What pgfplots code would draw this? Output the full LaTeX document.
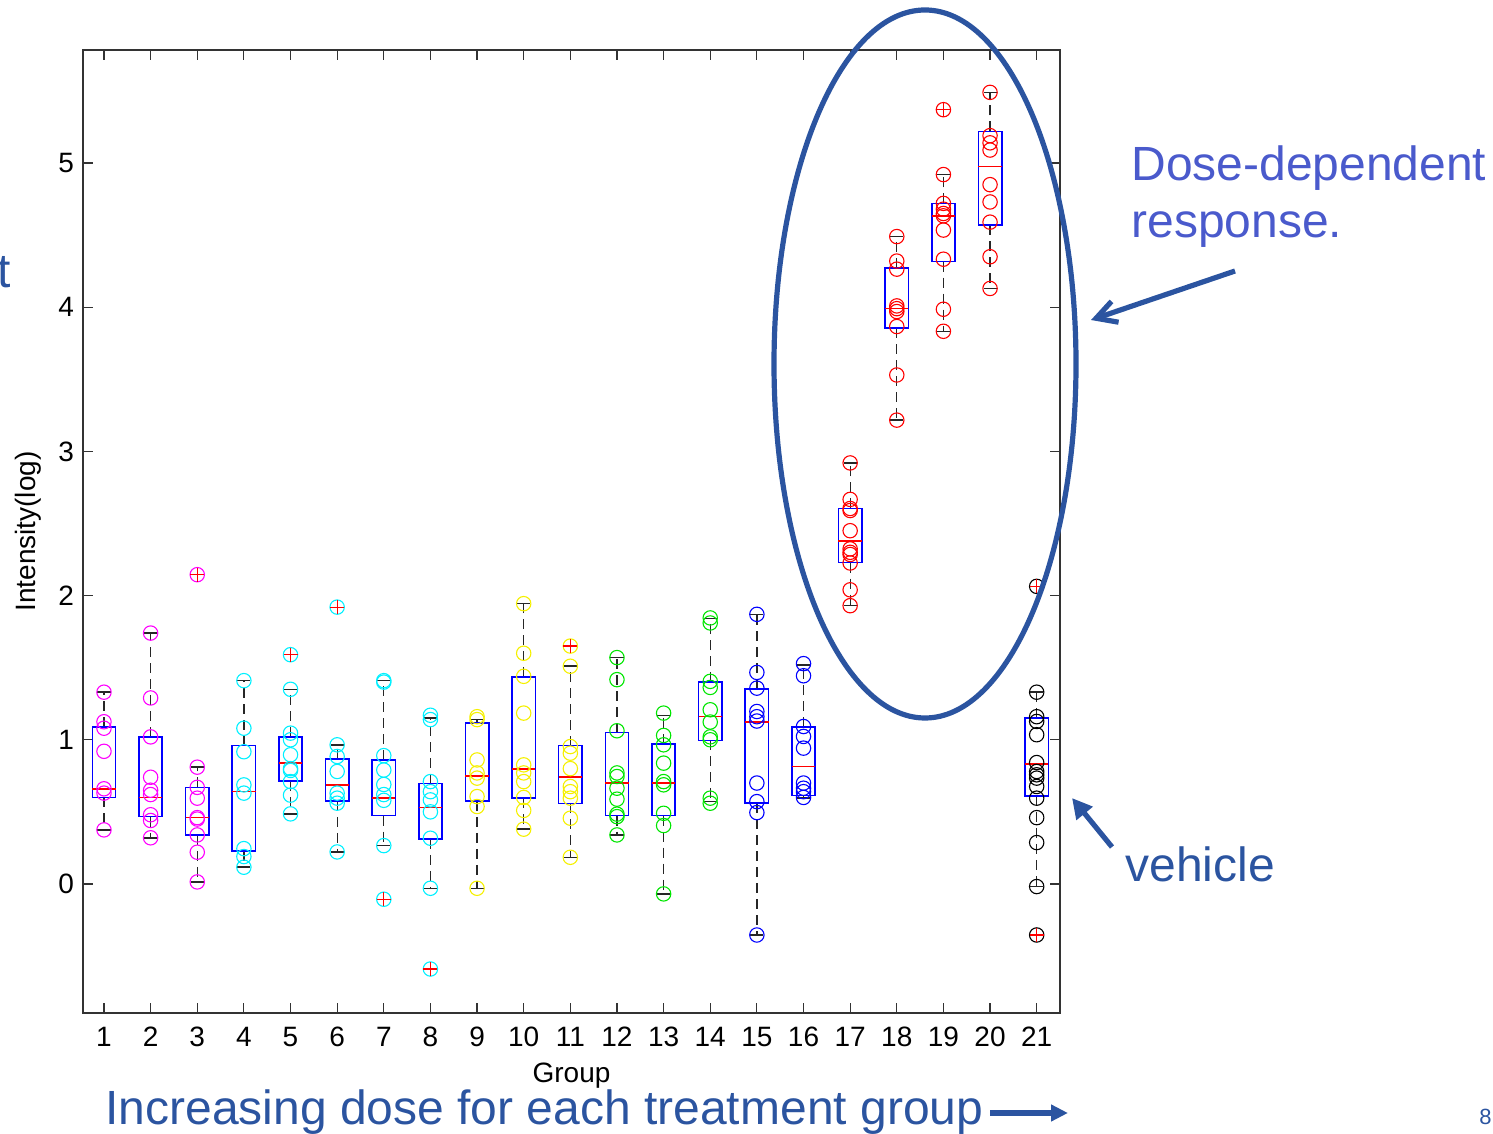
\documentclass[border=0pt]{standalone}
\usepackage{pgfplots}
\pgfplotsset{compat=1.18}
\usepgfplotslibrary{statistics}
\usetikzlibrary{arrows.meta}
\usepackage{fontspec}
\setmainfont{Liberation Sans}
\definecolor{annblue}{RGB}{43,84,160}
\definecolor{doseblue}{RGB}{74,90,204}
\definecolor{mag}{RGB}{255,0,255}
\definecolor{cya}{RGB}{0,240,255}
\definecolor{yel}{RGB}{245,240,0}
\definecolor{gre}{RGB}{0,230,0}
\definecolor{blu}{RGB}{0,0,255}
\definecolor{re}{RGB}{255,0,0}
\begin{document}
\begin{tikzpicture}
\path[use as bounding box] (-41.5pt,-60.5pt) rectangle (705pt,506.5pt);
\begin{axis}[
  at={(0,0)}, anchor=south west,
  scale only axis, width=488.5pt, height=481.5pt,
  xmin=0.55, xmax=21.5, ymin=-0.895, ymax=5.784,
  xtick={1,...,21}, ytick={0,...,5},
  tick align=inside, major tick length=5pt,
  axis line style={line width=0.75pt, black!80},
  tick style={line width=0.6pt, black!80},
  ticklabel style={font=\fontsize{14}{16}\selectfont},
  /pgf/number format/assume math mode=true,
  xticklabel shift=3.5pt, yticklabel shift=1pt,
  xlabel={Group}, ylabel={Intensity(log)},
  label style={font=\fontsize{14}{16}\selectfont},
  xlabel style={at={(axis description cs:0.5,-0.0655)}, anchor=center},
  ylabel style={at={(axis description cs:-0.0563,0.5)}, anchor=center},
  boxplot/draw direction=y,
  boxplot/box extend=0.5,
  boxplot/whisker extend=0.28,
  boxplot/every box/.style={draw=blu, line width=0.8pt},
  boxplot/every median/.style={draw=re, line width=0.8pt},
  boxplot/draw/lower whisker/.code={%
    \draw[black!85, line width=0.65pt, dash pattern=on 5pt off 3pt]
      (boxplot cs:\pgfplotsboxplotvalue{lower quartile}) -- (boxplot cs:\pgfplotsboxplotvalue{lower whisker});
    \draw[black!85, line width=0.75pt]
      (boxplot whisker cs:\pgfplotsboxplotvalue{lower whisker},0) -- (boxplot whisker cs:\pgfplotsboxplotvalue{lower whisker},1);
  },
  boxplot/draw/upper whisker/.code={%
    \draw[black!85, line width=0.65pt, dash pattern=on 5pt off 3pt]
      (boxplot cs:\pgfplotsboxplotvalue{upper quartile}) -- (boxplot cs:\pgfplotsboxplotvalue{upper whisker});
    \draw[black!85, line width=0.75pt]
      (boxplot whisker cs:\pgfplotsboxplotvalue{upper whisker},0) -- (boxplot whisker cs:\pgfplotsboxplotvalue{upper whisker},1);
  },
  pts/.style={only marks, mark=o, mark size=3.6pt, mark options={line width=0.55pt}, draw=#1},
  outl/.style={only marks, mark=+, mark size=3.5pt, re, mark options={line width=0.6pt}},
]
% boxes
\addplot[boxplot prepared={draw position=1, lower whisker=0.375, lower quartile=0.60, median=0.66, upper quartile=1.09, upper whisker=1.33}] coordinates {};
\addplot[boxplot prepared={draw position=2, lower whisker=0.32, lower quartile=0.467, median=0.60, upper quartile=1.02, upper whisker=1.74}] coordinates {};
\addplot[boxplot prepared={draw position=3, lower whisker=0.014, lower quartile=0.34, median=0.46, upper quartile=0.67, upper whisker=0.81}] coordinates {};
\addplot[boxplot prepared={draw position=4, lower whisker=0.116, lower quartile=0.23, median=0.64, upper quartile=0.96, upper whisker=1.41}] coordinates {};
\addplot[boxplot prepared={draw position=5, lower whisker=0.486, lower quartile=0.715, median=0.84, upper quartile=1.02, upper whisker=1.35}] coordinates {};
\addplot[boxplot prepared={draw position=6, lower whisker=0.222, lower quartile=0.576, median=0.6875, upper quartile=0.868, upper whisker=0.965}] coordinates {};
\addplot[boxplot prepared={draw position=7, lower whisker=0.266, lower quartile=0.474, median=0.595, upper quartile=0.861, upper whisker=1.41}] coordinates {};
\addplot[boxplot prepared={draw position=8, lower whisker=-0.03, lower quartile=0.3125, median=0.53, upper quartile=0.696, upper whisker=1.15}] coordinates {};
\addplot[boxplot prepared={draw position=9, lower whisker=-0.03, lower quartile=0.576, median=0.75, upper quartile=1.115, upper whisker=1.14}] coordinates {};
\addplot[boxplot prepared={draw position=10, lower whisker=0.38, lower quartile=0.595, median=0.796, upper quartile=1.435, upper whisker=1.944}] coordinates {};
\addplot[boxplot prepared={draw position=11, lower whisker=0.185, lower quartile=0.558, median=0.74, upper quartile=0.96, upper whisker=1.51}] coordinates {};
\addplot[boxplot prepared={draw position=12, lower whisker=0.34, lower quartile=0.474, median=0.70, upper quartile=1.05, upper whisker=1.57}] coordinates {};
\addplot[boxplot prepared={draw position=13, lower whisker=-0.069, lower quartile=0.474, median=0.70, upper quartile=0.97, upper whisker=1.17}] coordinates {};
\addplot[boxplot prepared={draw position=14, lower whisker=0.571, lower quartile=0.995, median=1.16, upper quartile=1.40, upper whisker=1.84}] coordinates {};
\addplot[boxplot prepared={draw position=15, lower whisker=-0.354, lower quartile=0.56, median=1.123, upper quartile=1.354, upper whisker=1.87}] coordinates {};
\addplot[boxplot prepared={draw position=16, lower whisker=0.595, lower quartile=0.613, median=0.815, upper quartile=1.088, upper whisker=1.52}] coordinates {};
\addplot[boxplot prepared={draw position=17, lower whisker=1.93, lower quartile=2.229, median=2.377, upper quartile=2.604, upper whisker=2.92}] coordinates {};
\addplot[boxplot prepared={draw position=18, lower whisker=3.217, lower quartile=3.854, median=3.99, upper quartile=4.273, upper whisker=4.49}] coordinates {};
\addplot[boxplot prepared={draw position=19, lower whisker=3.833, lower quartile=4.317, median=4.634, upper quartile=4.72, upper whisker=4.92}] coordinates {};
\addplot[boxplot prepared={draw position=20, lower whisker=4.13, lower quartile=4.57, median=4.977, upper quartile=5.22, upper whisker=5.49}] coordinates {};
\addplot[boxplot prepared={draw position=21, lower whisker=-0.018, lower quartile=0.61, median=0.833, upper quartile=1.15, upper whisker=1.33}] coordinates {};
% data points
\addplot[pts=mag] coordinates {(1,1.33)(1,1.125)(1,1.08)(1,0.92)(1,0.66)(1,0.63)(1,0.375)};
\addplot[pts=mag] coordinates {(2,1.74)(2,1.29)(2,1.02)(2,0.74)(2,0.65)(2,0.62)(2,0.48)(2,0.44)(2,0.32)};
\addplot[pts=mag] coordinates {(3,2.145)(3,0.81)(3,0.67)(3,0.595)(3,0.46)(3,0.45)(3,0.34)(3,0.22)(3,0.014)};
\addplot[pts=cya] coordinates {(4,1.41)(4,1.08)(4,0.917)(4,0.687)(4,0.63)(4,0.245)(4,0.19)(4,0.116)};
\addplot[pts=cya] coordinates {(5,1.59)(5,1.35)(5,1.046)(5,1.0)(5,0.896)(5,0.80)(5,0.787)(5,0.71)(5,0.616)(5,0.486)};
\addplot[pts=cya] coordinates {(6,1.92)(6,0.965)(6,0.884)(6,0.78)(6,0.63)(6,0.595)(6,0.56)(6,0.222)};
\addplot[pts=cya] coordinates {(7,1.41)(7,1.40)(7,0.89)(7,0.79)(7,0.69)(7,0.62)(7,0.58)(7,0.266)(7,-0.106)};
\addplot[pts=cya] coordinates {(8,1.17)(8,1.14)(8,0.71)(8,0.64)(8,0.583)(8,0.50)(8,0.317)(8,-0.03)(8,-0.59)};
\addplot[pts=yel] coordinates {(9,1.16)(9,1.14)(9,0.86)(9,0.77)(9,0.734)(9,0.606)(9,0.537)(9,-0.03)};
\addplot[pts=yel] coordinates {(10,1.944)(10,1.60)(10,1.44)(10,1.185)(10,0.826)(10,0.77)(10,0.71)(10,0.60)(10,0.51)(10,0.38)};
\addplot[pts=yel] coordinates {(11,1.65)(11,1.51)(11,0.953)(11,0.907)(11,0.80)(11,0.676)(11,0.64)(11,0.595)(11,0.456)(11,0.185)};
\addplot[pts=gre] coordinates {(12,1.57)(12,1.417)(12,1.0625)(12,0.77)(12,0.745)(12,0.664)(12,0.588)(12,0.484)(12,0.467)(12,0.34)};
\addplot[pts=gre] coordinates {(13,1.185)(13,1.03)(13,0.965)(13,0.838)(13,0.71)(13,0.6875)(13,0.49)(13,0.405)(13,-0.069)};
\addplot[pts=gre] coordinates {(14,1.845)(14,1.81)(14,1.405)(14,1.363)(14,1.208)(14,1.123)(14,1.02)(14,1.0)(14,0.595)(14,0.56)};
\addplot[pts=blu] coordinates {(15,1.87)(15,1.467)(15,1.358)(15,1.196)(15,1.16)(15,1.13)(15,0.70)(15,0.571)(15,0.495)(15,-0.354)};
\addplot[pts=blu] coordinates {(16,1.528)(16,1.444)(16,1.092)(16,1.023)(16,0.942)(16,0.70)(16,0.664)(16,0.64)(16,0.60)};
\addplot[pts=re] coordinates {(17,2.92)(17,2.667)(17,2.604)(17,2.59)(17,2.45)(17,2.324)(17,2.30)(17,2.285)(17,2.226)(17,2.04)(17,1.93)};
\addplot[pts=re] coordinates {(18,4.49)(18,4.32)(18,4.264)(18,4.009)(18,3.99)(18,3.97)(18,3.866)(18,3.53)(18,3.217)};
\addplot[pts=re] coordinates {(19,5.37)(19,4.92)(19,4.72)(19,4.68)(19,4.65)(19,4.634)(19,4.535)(19,4.333)(19,3.986)(19,3.833)};
\addplot[pts=re] coordinates {(20,5.49)(20,5.19)(20,5.14)(20,5.09)(20,4.85)(20,4.73)(20,4.59)(20,4.35)(20,4.13)};
\addplot[pts=black] coordinates {(21,2.064)(21,1.33)(21,1.16)(21,1.127)(21,1.035)(21,0.842)(21,0.78)(21,0.757)(21,0.734)(21,0.676)(21,0.595)(21,0.46)(21,0.287)(21,-0.018)(21,-0.354)};
% outliers
\addplot[outl] coordinates {(3,2.145)(5,1.59)(6,1.92)(7,-0.106)(8,-0.59)(11,1.65)(19,5.37)(21,2.064)(21,-0.354)};
\end{axis}
% annotations in reference pixel coordinates
\begin{scope}[shift={(-41.5pt,506.5pt)}, x=0.5pt, y=-0.5pt]
  \draw[annblue, line width=2.6pt] (925,364) ellipse [x radius=75.5pt, y radius=177pt];
  \draw[annblue, line width=2.6pt, -{Straight Barb[length=10pt, width=11pt, line width=2.6pt]}] (1235,271) -- (1091,320);
  \draw[annblue, line width=2.6pt, -{Triangle[length=10pt, width=10pt]}] (1112,847) -- (1072,798);
  \draw[annblue, line width=2.8pt, -{Triangle[length=8.5pt, width=8pt]}] (990,1113) -- (1068,1113);
  \node[anchor=base west, inner sep=0, text=doseblue, font=\fontsize{24}{28}\selectfont] at (1131,181) {Dose-dependent};
  \node[anchor=base west, inner sep=0, text=doseblue, font=\fontsize{24}{28}\selectfont] at (1131,238) {response.};
  \node[anchor=base west, inner sep=0, text=annblue, font=\fontsize{24}{28}\selectfont] at (1125,882) {vehicle};
  \node[anchor=base west, inner sep=0, text=annblue, font=\fontsize{24}{28}\selectfont] at (105,1125) {Increasing dose for each treatment group};
  \node[anchor=base east, inner sep=0, text=annblue, font=\fontsize{24}{28}\selectfont] at (11,288) {t};
  \node[anchor=base east, inner sep=0, text=annblue, font=\fontsize{11}{13}\selectfont] at (1492,1125) {8};
\end{scope}
\end{tikzpicture}
\end{document}
